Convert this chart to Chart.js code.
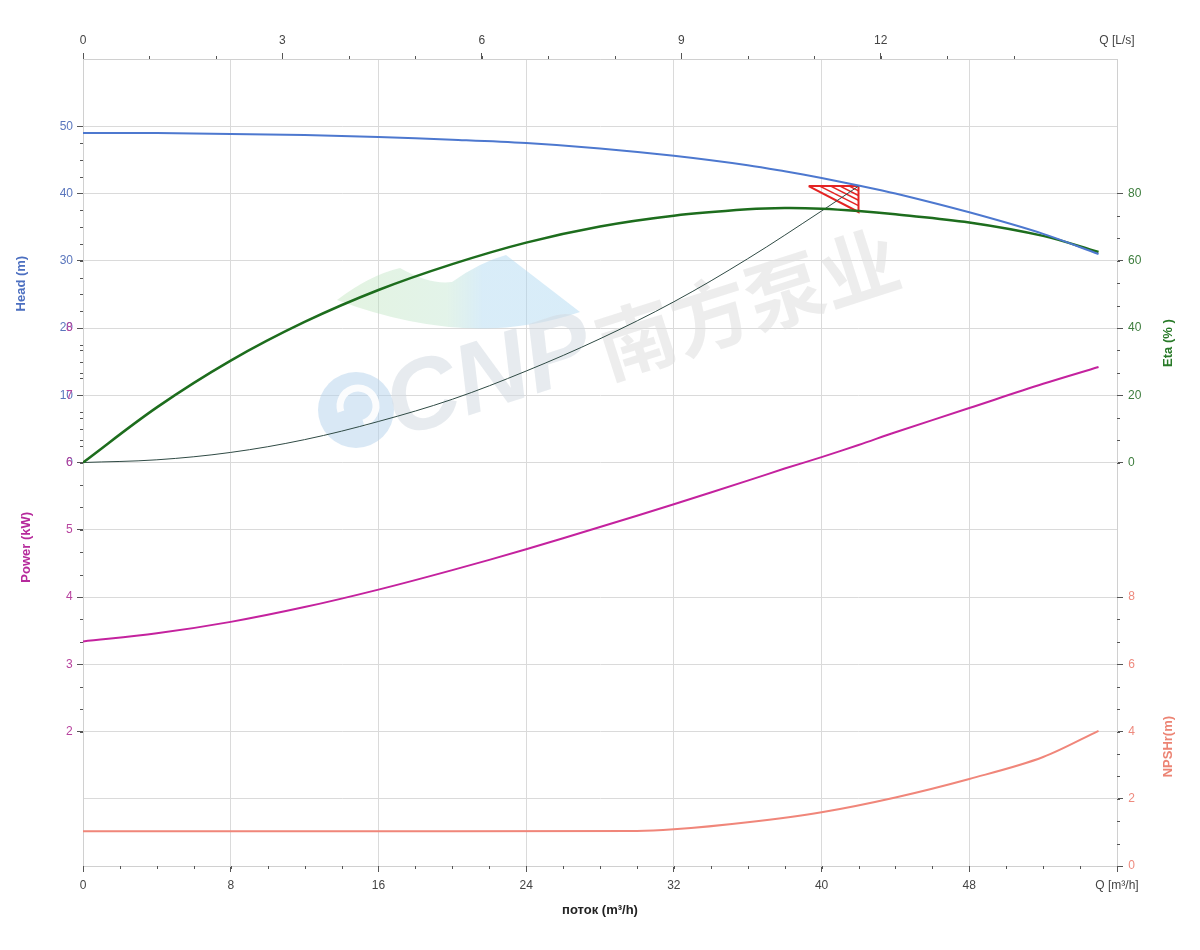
<!DOCTYPE html>
<html>
<head>
<meta charset="utf-8">
<title>Pump curve</title>
<script src="https://cdn.jsdelivr.net/npm/chart.js@4.4.1/dist/chart.umd.min.js"></script>
<style>
  body { margin: 0; background: #fff; }
</style>
</head>
<body>
<canvas id="myChart" width="1200" height="950"></canvas>
<script>
// values, flow in m3/h
const flowQ   = [0, 4, 8, 12, 16, 20, 24, 28, 32, 36, 38, 40, 42, 44, 48, 52, 55];
const headM   = [49.0, 49.0, 48.85, 48.7, 48.4, 48.0, 47.5, 46.7, 45.6, 44.2, 43.3, 42.3, 41.2, 40.0, 37.2, 34.0, 31.0];
const etaPct  = [0, 16.4, 30.3, 41.8, 51.3, 59.0, 65.4, 70.2, 73.4, 75.3, 75.7, 75.5, 74.8, 73.8, 71.4, 67.4, 62.6];
const powerKW = [3.34, 3.46, 3.63, 3.85, 4.11, 4.40, 4.71, 5.04, 5.38, 5.73, 5.91, 6.08, 6.26, 6.45, 6.81, 7.17, 7.42];

const npshQ = [0, 10, 20, 30, 32, 36, 40, 44, 48, 52, 55];
const npshM = [1.03, 1.03, 1.03, 1.04, 1.09, 1.30, 1.60, 2.04, 2.59, 3.24, 4.02];

// system curve up to duty point
const systemQ = [0, 4, 8, 12, 16, 20, 24, 28, 32, 36, 40, 42];
const systemH = [0, 0.4, 1.5, 3.4, 6.1, 9.4, 13.6, 18.4, 23.9, 30.3, 37.4, 41.1];

// duty point triangle + hatching
const dutyQ = [39.3, 42.0, 42.0, 39.3];
const dutyH = [41.1, 41.1, 37.25, 41.1];
const hatchStartQ = [39.9, 40.5, 41.0, 41.5];
const hatchEndH   = [38.2, 39.0, 39.7, 40.4];

// tick labels
const bottomTicks = [0, 8, 16, 24, 32, 40, 48, 56];
const topTicks    = [0, 3, 6, 9, 12];
const headTicks   = [0, 10, 20, 30, 40, 50];
const powerTicks  = [2, 3, 4, 5, 6, 7, 8];
const etaTicks    = [0, 20, 40, 60, 80];
const npshTicks   = [0, 2, 4, 6, 8];

const Q_MAX = 56;
const LS_PER_M3H = 1 / 3.6;

const COLORS = {
  head: '#4d78cf',
  eta: '#1d6d1d',
  power: '#c4229e',
  npsh: '#f0867a',
  system: '#2f4a44',
  duty: '#e42323',
  grid: '#dadada',
  border: '#d0d0d0',
  tick: '#555'
};

Chart.defaults.font.family = 'Arial, "Liberation Sans", sans-serif';
Chart.defaults.font.size = 12;

function pts(xs, ys) {
  return xs.map((x, i) => ({x: x, y: ys[i]}));
}

function onlyLabels(list) {
  return function(v) { return list.includes(v) ? String(v) : ''; };
}

function setTicks(list) {
  return function(s) { s.ticks = list.map(v => ({value: v})); };
}

const datasets = [
  {data: pts(flowQ, headM), yAxisID: 'yHead', borderColor: COLORS.head, borderWidth: 2, tension: 0.35},
  {data: pts(flowQ, etaPct), yAxisID: 'yEta', borderColor: COLORS.eta, borderWidth: 2.5, tension: 0.35},
  {data: pts(flowQ, powerKW), yAxisID: 'yPower', borderColor: COLORS.power, borderWidth: 2, tension: 0.35},
  {data: pts(npshQ, npshM), yAxisID: 'yNpsh', borderColor: COLORS.npsh, borderWidth: 2, cubicInterpolationMode: 'monotone'},
  {data: pts(systemQ, systemH), yAxisID: 'yHead', borderColor: COLORS.system, borderWidth: 1, tension: 0.35},
  {data: pts(dutyQ, dutyH), yAxisID: 'yHead', borderColor: COLORS.duty, borderWidth: 2, tension: 0}
];
hatchStartQ.forEach((q, i) => {
  datasets.push({
    data: [{x: q, y: dutyH[0]}, {x: dutyQ[1], y: hatchEndH[i]}],
    yAxisID: 'yHead', borderColor: COLORS.duty, borderWidth: 1.5, tension: 0
  });
});
datasets.forEach(d => {
  d.xAxisID = 'x';
  d.pointRadius = 0;
});

// minor tick marks along each axis
const minorTicks = {
  id: 'minorTicks',
  afterDraw(chart) {
    const ctx = chart.ctx;
    const s = chart.scales;
    const a = chart.chartArea;
    ctx.save();
    ctx.strokeStyle = COLORS.tick;
    ctx.lineWidth = 1;
    ctx.beginPath();
    function vert(scale, from, n, step, x, dir) {
      for (let i = 0; i <= n; i++) {
        const y = Math.round(scale.getPixelForValue(from + i * step)) + 0.5;
        ctx.moveTo(x, y); ctx.lineTo(x + dir * 3, y);
      }
    }
    function horiz(scale, from, n, step, y, dir) {
      for (let i = 0; i <= n; i++) {
        const x = Math.round(scale.getPixelForValue(from + i * step)) + 0.5;
        ctx.moveTo(x, y); ctx.lineTo(x, y + dir * 3);
      }
    }
    horiz(s.x, 0, 28, 2, a.bottom, 1);
    horiz(s.x2, 0, 14, 1, a.top, -1);
    vert(s.yHead, 0, 20, 2.5, a.left, -1);
    vert(s.yPower, 2, 18, 1 / 3, a.left, -1);
    vert(s.yEta, 0, 12, 20 / 3, a.right, 1);
    vert(s.yNpsh, 0, 12, 2 / 3, a.right, 1);
    ctx.stroke();
    ctx.restore();
  }
};

// axis titles placed like the original
const axisTitles = {
  id: 'axisTitles',
  afterDraw(chart) {
    const ctx = chart.ctx;
    const s = chart.scales;
    const a = chart.chartArea;
    ctx.save();
    ctx.font = 'bold 13px Arial, "Liberation Sans", sans-serif';
    ctx.textAlign = 'center';
    ctx.textBaseline = 'middle';
    function vtext(t, x, y, c) {
      ctx.save();
      ctx.translate(x, y);
      ctx.rotate(-Math.PI / 2);
      ctx.fillStyle = c;
      ctx.fillText(t, 0, 0);
      ctx.restore();
    }
    vtext('Head (m)', 21, s.yHead.getPixelForValue(26.6), '#4c6fc0');
    vtext('Power (kW)', 26, s.yPower.getPixelForValue(4.74), '#b62a9c');
    vtext('Eta (% )', 1168, s.yEta.getPixelForValue(35.5), '#287a28');
    vtext('NPSHr(m)', 1168, s.yNpsh.getPixelForValue(3.55), '#ec8474');
    ctx.fillStyle = '#222';
    ctx.fillText('поток (m³/h)', (a.left + a.right) / 2, 910);
    ctx.restore();
  }
};

// faint company watermark behind the curves
const watermark = {
  id: 'watermark',
  beforeDatasetsDraw(chart) {
    const ctx = chart.ctx;
    ctx.save();
    // mountain swoosh
    const g = ctx.createLinearGradient(337, 0, 580, 0);
    g.addColorStop(0, 'rgba(185,226,180,0.4)');
    g.addColorStop(0.45, 'rgba(185,226,200,0.4)');
    g.addColorStop(0.6, 'rgba(170,214,240,0.45)');
    g.addColorStop(1, 'rgba(170,214,240,0.45)');
    ctx.fillStyle = g;
    ctx.beginPath();
    ctx.moveTo(337, 300);
    ctx.quadraticCurveTo(370, 275, 400, 268);
    ctx.quadraticCurveTo(430, 285, 452, 282);
    ctx.quadraticCurveTo(480, 262, 506, 255);
    ctx.quadraticCurveTo(545, 285, 580, 312);
    ctx.quadraticCurveTo(470, 350, 337, 300);
    ctx.fill();
    // round logo
    ctx.fillStyle = 'rgba(180,210,236,0.5)';
    ctx.beginPath();
    ctx.arc(356, 410, 38, 0, Math.PI * 2);
    ctx.fill();
    ctx.strokeStyle = 'rgba(255,255,255,0.9)';
    ctx.lineWidth = 7;
    ctx.beginPath();
    ctx.arc(358, 406, 18, Math.PI * 0.9, Math.PI * 2.4);
    ctx.stroke();
    // text
    ctx.translate(398, 438);
    ctx.rotate(-0.31);
    ctx.textBaseline = 'alphabetic';
    ctx.font = 'italic bold 100px Arial, "Liberation Sans", sans-serif';
    ctx.fillStyle = 'rgba(212,218,226,0.55)';
    ctx.fillText('CNP', 0, 0);
    ctx.font = 'bold 78px "Noto Sans CJK SC", sans-serif';
    ctx.fillStyle = 'rgba(222,222,222,0.55)';
    ctx.fillText('南方泵业', 218, 8);
    ctx.restore();
  }
};

const config = {
  type: 'line',
  data: {datasets: datasets},
  options: {
    responsive: false,
    animation: false,
    layout: {padding: 0},
    plugins: {
      legend: {display: false},
      tooltip: {enabled: false}
    },
    scales: {
      x: {
        type: 'linear', position: 'bottom', min: 0, max: Q_MAX,
        afterBuildTicks: setTicks(bottomTicks),
        afterFit: s => { s.height = 84; },
        ticks: {
          autoSkip: false, maxRotation: 0, color: '#444', padding: 6,
          callback: v => v === Q_MAX ? 'Q [m³/h]' : String(v)
        },
        grid: {color: COLORS.grid, tickColor: COLORS.tick, tickLength: 6},
        border: {color: COLORS.border}
      },
      x2: {
        type: 'linear', position: 'top', min: 0, max: Q_MAX * LS_PER_M3H,
        afterBuildTicks: s => { s.ticks = topTicks.concat([Q_MAX * LS_PER_M3H]).map(v => ({value: v})); },
        afterFit: s => { s.height = 59; },
        ticks: {
          autoSkip: false, maxRotation: 0, color: '#444', padding: 5,
          callback: v => v > 13 ? 'Q [L/s]' : String(v)
        },
        grid: {
          drawOnChartArea: false, tickLength: 6,
          tickColor: c => (c.tick && c.tick.value > 13) ? 'rgba(0,0,0,0)' : COLORS.tick
        },
        border: {color: COLORS.border}
      },
      yHead: {
        type: 'linear', position: 'left', weight: 1, min: -60, max: 60,
        afterBuildTicks: s => {
          const t = [];
          for (let v = -60; v <= 60; v += 10) t.push({value: v});
          s.ticks = t;
        },
        afterFit: s => { s.width = 83; },
        ticks: {autoSkip: false, color: '#5a76bd', padding: 4, callback: onlyLabels(headTicks)},
        grid: {
          color: COLORS.grid, tickLength: 6,
          tickColor: c => (c.tick && headTicks.includes(c.tick.value)) ? COLORS.tick : 'rgba(0,0,0,0)'
        },
        border: {color: COLORS.border}
      },
      // zero-width axis sharing the head axis' place; mirrored so its labels are not clipped
      yPower: {
        type: 'linear', position: 'left', weight: 0, min: 0, max: 12,
        afterBuildTicks: setTicks(powerTicks),
        afterFit: s => { s.width = 0; },
        ticks: {autoSkip: false, color: '#b8449f', mirror: true, crossAlign: 'far', padding: -17},
        grid: {drawOnChartArea: false, tickLength: 6, tickColor: COLORS.tick},
        border: {display: false}
      },
      yNpsh: {
        type: 'linear', position: 'right', weight: 0, min: 0, max: 24,
        afterBuildTicks: setTicks(npshTicks),
        afterFit: s => { s.width = 0; },
        ticks: {autoSkip: false, color: '#ee8a7e', mirror: true, crossAlign: 'far', padding: 18},
        grid: {drawOnChartArea: false, tickLength: 6, tickColor: COLORS.tick},
        border: {display: false}
      },
      yEta: {
        type: 'linear', position: 'right', weight: 1, min: -120, max: 120,
        afterBuildTicks: setTicks(etaTicks),
        afterFit: s => { s.width = 83; },
        ticks: {autoSkip: false, color: '#3d7d3d', padding: 5},
        grid: {drawOnChartArea: false, tickLength: 6, tickColor: COLORS.tick},
        border: {color: COLORS.border}
      }
    }
  },
  plugins: [watermark, minorTicks, axisTitles]
};

const myChart = new Chart(document.getElementById('myChart'), config);
</script>
</body>
</html>
